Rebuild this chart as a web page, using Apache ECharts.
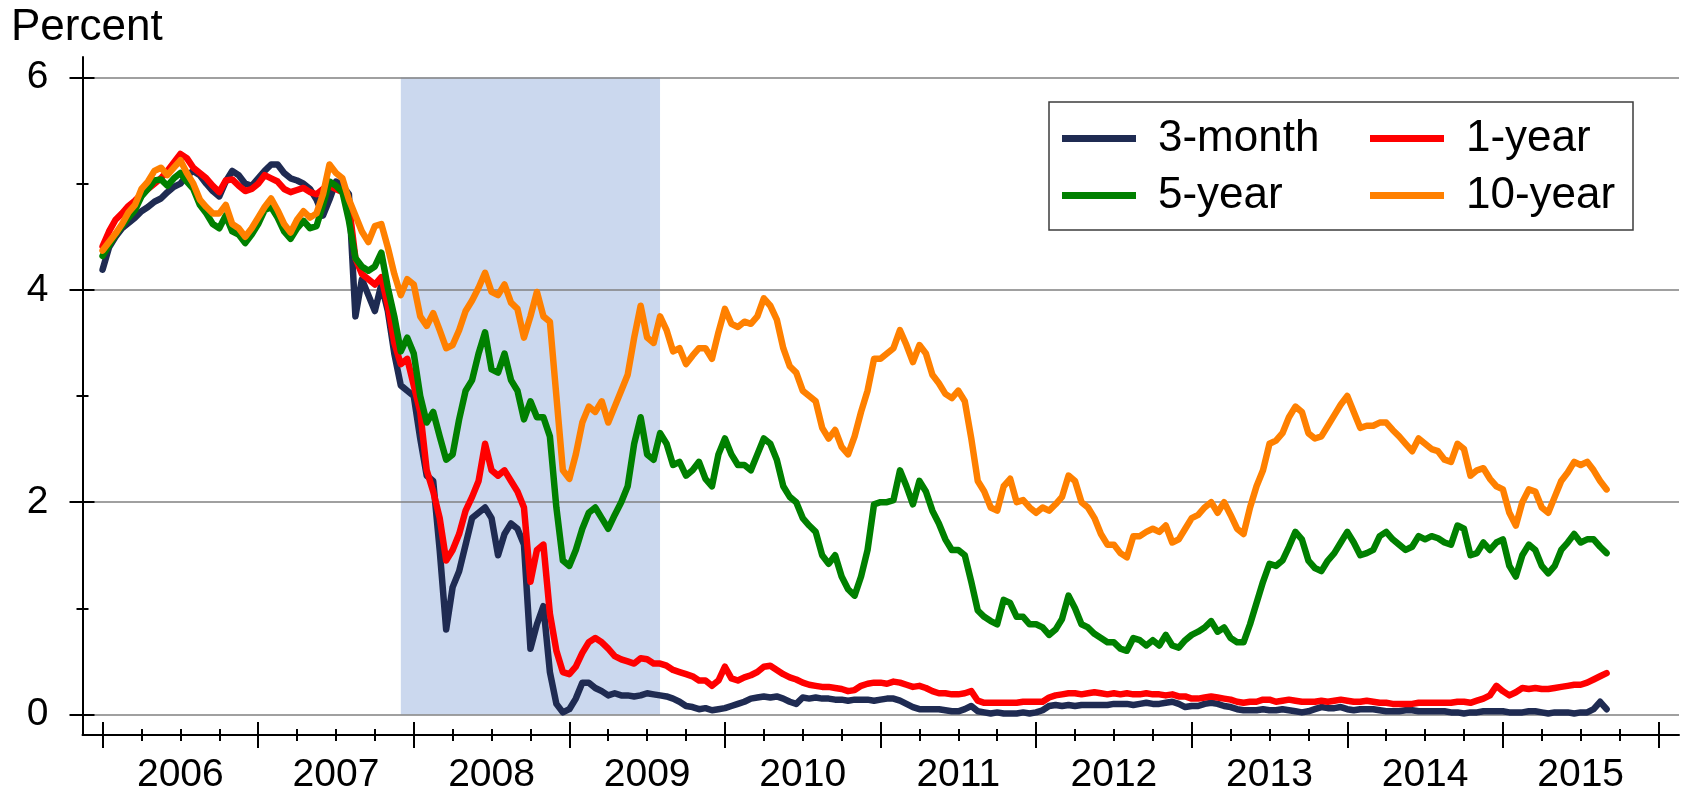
<!DOCTYPE html>
<html>
<head>
<meta charset="utf-8">
<script src="https://cdn.jsdelivr.net/npm/echarts@6/dist/echarts.min.js"></script>
<style>
  body { margin: 0; background: #fff; }
  #chart { width: 1687px; height: 795px; }
</style>
</head>
<body>
<div id="chart"></div>
<script>
// Treasury yields, semi-monthly readings (1st and 16th of each month) from Jan 2006
var startYear = 2006;
var perYear = 24;

var rate3m = [
  // 2006
  4.19,4.40,4.50,4.58,4.63,4.68,4.74,4.78,4.83,4.86,4.92,4.97,5.00,5.08,5.12,5.08,5.00,4.93,4.88,5.02,5.12,5.08,5.00,4.98,
  // 2007
  5.05,5.12,5.18,5.18,5.10,5.05,5.03,5.00,4.95,4.85,4.70,4.85,5.02,4.98,4.90,3.75,4.10,3.95,3.80,4.05,3.80,3.40,3.10,3.05,
  // 2008
  3.00,2.60,2.25,2.20,1.55,0.80,1.20,1.35,1.60,1.85,1.90,1.95,1.85,1.50,1.70,1.80,1.75,1.60,0.62,0.85,1.02,0.40,0.10,0.02,
  // 2009
  0.05,0.15,0.30,0.30,0.25,0.22,0.18,0.20,0.18,0.18,0.17,0.18,0.20,0.19,0.18,0.17,0.15,0.12,0.08,0.07,0.05,0.06,0.04,0.05,
  // 2010
  0.06,0.08,0.10,0.12,0.15,0.16,0.17,0.16,0.17,0.15,0.12,0.10,0.16,0.15,0.16,0.15,0.15,0.14,0.14,0.13,0.14,0.14,0.14,0.13,
  // 2011
  0.14,0.15,0.15,0.13,0.10,0.07,0.05,0.05,0.05,0.05,0.04,0.03,0.03,0.05,0.08,0.03,0.02,0.01,0.02,0.01,0.01,0.01,0.02,0.01,
  // 2012
  0.02,0.04,0.08,0.09,0.08,0.09,0.08,0.09,0.09,0.09,0.09,0.09,0.10,0.10,0.10,0.09,0.10,0.11,0.10,0.10,0.11,0.12,0.10,0.07,
  // 2013
  0.08,0.08,0.10,0.11,0.10,0.08,0.07,0.05,0.04,0.04,0.04,0.05,0.04,0.04,0.05,0.04,0.03,0.02,0.03,0.05,0.07,0.06,0.06,0.07,
  // 2014
  0.05,0.04,0.05,0.05,0.05,0.04,0.03,0.03,0.03,0.04,0.04,0.03,0.03,0.03,0.03,0.03,0.02,0.02,0.01,0.02,0.02,0.03,0.03,0.03,
  // 2015
  0.03,0.02,0.02,0.02,0.03,0.03,0.02,0.01,0.02,0.02,0.02,0.01,0.02,0.02,0.05,0.12,0.05
];

var rate1y = [
  // 2006
  4.41,4.55,4.66,4.72,4.79,4.84,4.90,4.95,5.00,5.05,5.12,5.20,5.28,5.24,5.15,5.10,5.05,4.98,4.92,5.03,5.04,4.98,4.93,4.95,
  // 2007
  5.00,5.08,5.05,5.02,4.95,4.92,4.94,4.96,4.92,4.90,4.95,4.98,4.95,4.92,4.80,4.30,4.15,4.10,4.05,4.12,3.85,3.50,3.30,3.35,
  // 2008
  3.10,2.85,2.30,2.10,1.85,1.45,1.55,1.70,1.92,2.05,2.20,2.55,2.30,2.25,2.30,2.20,2.10,1.95,1.25,1.55,1.60,0.95,0.60,0.40,
  // 2009
  0.38,0.45,0.58,0.68,0.72,0.68,0.62,0.55,0.52,0.50,0.48,0.53,0.52,0.48,0.48,0.46,0.42,0.40,0.38,0.36,0.32,0.32,0.27,0.32,
  // 2010
  0.45,0.34,0.32,0.35,0.37,0.40,0.45,0.46,0.42,0.38,0.35,0.33,0.30,0.28,0.27,0.26,0.26,0.25,0.24,0.22,0.23,0.27,0.29,0.30,
  // 2011
  0.30,0.29,0.31,0.30,0.28,0.26,0.27,0.25,0.22,0.20,0.20,0.19,0.19,0.20,0.22,0.13,0.11,0.11,0.11,0.11,0.11,0.11,0.12,0.12,
  // 2012
  0.12,0.12,0.16,0.18,0.19,0.20,0.20,0.19,0.20,0.21,0.20,0.19,0.20,0.19,0.20,0.19,0.19,0.20,0.19,0.19,0.18,0.19,0.17,0.17,
  // 2013
  0.15,0.15,0.16,0.17,0.16,0.15,0.14,0.12,0.11,0.12,0.12,0.14,0.14,0.12,0.13,0.14,0.13,0.12,0.12,0.12,0.13,0.12,0.13,0.14,
  // 2014
  0.13,0.12,0.12,0.13,0.12,0.11,0.11,0.10,0.10,0.10,0.10,0.11,0.11,0.11,0.11,0.11,0.11,0.12,0.12,0.11,0.13,0.15,0.18,0.27,
  // 2015
  0.22,0.18,0.21,0.25,0.24,0.25,0.24,0.24,0.25,0.26,0.27,0.28,0.28,0.30,0.33,0.36,0.39
];

var rate5y = [
  // 2006
  4.32,4.42,4.52,4.60,4.68,4.75,4.88,4.95,5.03,5.04,4.98,5.05,5.10,5.02,4.95,4.80,4.72,4.62,4.58,4.70,4.55,4.52,4.44,4.52,
  // 2007
  4.62,4.75,4.78,4.68,4.55,4.48,4.58,4.65,4.58,4.60,4.80,5.02,4.98,4.92,4.65,4.30,4.22,4.18,4.22,4.35,4.02,3.75,3.42,3.55,
  // 2008
  3.40,3.00,2.75,2.85,2.62,2.40,2.45,2.78,3.05,3.15,3.40,3.60,3.25,3.22,3.40,3.15,3.05,2.78,2.95,2.80,2.80,2.62,1.95,1.45,
  // 2009
  1.40,1.55,1.75,1.90,1.95,1.85,1.75,1.88,2.00,2.15,2.55,2.80,2.45,2.40,2.65,2.55,2.35,2.38,2.25,2.30,2.38,2.22,2.15,2.45,
  // 2010
  2.60,2.45,2.35,2.35,2.30,2.45,2.60,2.55,2.40,2.15,2.05,2.00,1.85,1.78,1.72,1.50,1.42,1.50,1.30,1.18,1.12,1.30,1.55,1.98,
  // 2011
  2.00,2.00,2.02,2.30,2.15,1.98,2.20,2.10,1.92,1.80,1.65,1.55,1.55,1.50,1.25,0.98,0.92,0.88,0.85,1.08,1.05,0.92,0.92,0.85,
  // 2012
  0.85,0.82,0.75,0.80,0.90,1.12,1.00,0.85,0.82,0.76,0.72,0.68,0.68,0.62,0.60,0.72,0.70,0.65,0.70,0.65,0.75,0.65,0.63,0.70,
  // 2013
  0.75,0.78,0.82,0.88,0.78,0.82,0.72,0.68,0.68,0.85,1.05,1.25,1.42,1.40,1.45,1.58,1.72,1.65,1.45,1.38,1.35,1.45,1.52,1.62,
  // 2014
  1.72,1.62,1.50,1.52,1.55,1.68,1.72,1.65,1.60,1.55,1.58,1.68,1.65,1.68,1.66,1.62,1.60,1.78,1.75,1.50,1.52,1.62,1.55,1.62,
  // 2015
  1.65,1.40,1.30,1.50,1.60,1.55,1.40,1.33,1.40,1.55,1.62,1.70,1.62,1.65,1.65,1.58,1.52
];

var rate10y = [
  // 2006
  4.37,4.45,4.53,4.62,4.73,4.80,4.95,5.02,5.12,5.15,5.08,5.15,5.22,5.10,5.00,4.85,4.78,4.72,4.72,4.80,4.62,4.58,4.50,4.58,
  // 2007
  4.68,4.78,4.86,4.75,4.62,4.54,4.66,4.74,4.68,4.72,4.90,5.18,5.10,5.05,4.85,4.70,4.55,4.45,4.60,4.62,4.40,4.15,3.95,4.10,
  // 2008
  4.05,3.75,3.66,3.78,3.62,3.45,3.48,3.62,3.80,3.90,4.02,4.16,3.98,3.95,4.05,3.88,3.82,3.55,3.75,3.98,3.75,3.70,3.00,2.30,
  // 2009
  2.22,2.45,2.75,2.90,2.85,2.95,2.75,2.90,3.05,3.20,3.55,3.85,3.55,3.50,3.75,3.62,3.42,3.45,3.30,3.38,3.45,3.45,3.35,3.60,
  // 2010
  3.82,3.68,3.65,3.70,3.68,3.75,3.92,3.85,3.72,3.45,3.28,3.22,3.05,3.00,2.95,2.70,2.60,2.68,2.52,2.45,2.62,2.85,3.05,3.35,
  // 2011
  3.35,3.40,3.45,3.62,3.48,3.32,3.48,3.40,3.20,3.12,3.02,2.98,3.05,2.95,2.60,2.20,2.10,1.95,1.92,2.15,2.22,2.00,2.02,1.95,
  // 2012
  1.90,1.95,1.92,1.98,2.05,2.25,2.20,2.00,1.95,1.85,1.70,1.60,1.60,1.52,1.48,1.68,1.68,1.72,1.75,1.72,1.78,1.62,1.65,1.75,
  // 2013
  1.85,1.88,1.95,2.00,1.90,2.00,1.88,1.75,1.70,1.95,2.15,2.30,2.55,2.58,2.65,2.80,2.90,2.85,2.65,2.60,2.62,2.72,2.82,2.92,
  // 2014
  3.00,2.85,2.70,2.72,2.72,2.75,2.75,2.68,2.62,2.55,2.48,2.60,2.55,2.50,2.48,2.40,2.38,2.55,2.50,2.25,2.30,2.32,2.22,2.15,
  // 2015
  2.12,1.90,1.78,2.00,2.12,2.10,1.95,1.90,2.05,2.20,2.28,2.38,2.35,2.38,2.30,2.20,2.12
];

// recession shading, Dec 2007 - mid 2009 (decimal years)
var recession = [2007.917, 2009.583];

// tick labels
var years = [2006, 2007, 2008, 2009, 2010, 2011, 2012, 2013, 2014, 2015];
var yMajor = [0, 2, 4, 6];
var yMinor = [1, 3, 5];

var fontFam = '"Liberation Sans", Arial, sans-serif';

function toSeries(values) {
  return values.map(function (v, i) { return [startYear + i / perYear, v]; });
}

var yearTicks = years.concat([years[years.length - 1] + 1]);
var quarterTicks = [];
years.forEach(function (y) { quarterTicks.push(y + 0.25, y + 0.5, y + 0.75); });
var yearLabels = years.map(function (y) { return y + 0.5; });

var XMIN = 2005.871, XMAX = 2016.132;
var YMIN = -0.193, YMAX = 6.193;

function xAx(ticks, inside, len, showLine, showLabel) {
  return {
    type: 'value', position: 'bottom', min: XMIN, max: XMAX,
    axisLine: { show: showLine, onZero: false, lineStyle: { color: '#000', width: 2 } },
    axisTick: { show: true, customValues: ticks, inside: inside, length: len,
                lineStyle: { color: '#000', width: 2 } },
    axisLabel: showLabel ? {
      customValues: yearLabels, color: '#000', fontSize: 39, fontFamily: fontFam, margin: 21,
      formatter: function (v) { return String(Math.floor(v)); }
    } : { show: false },
    splitLine: { show: false }
  };
}

function yAx(ticks, inside, len, main) {
  return {
    type: 'value', position: 'left', min: YMIN, max: YMAX, z: 2,
    axisLine: { show: main, onZero: false, lineStyle: { color: '#000', width: 2 } },
    axisTick: { show: true, customValues: ticks, inside: inside, length: len,
                lineStyle: { color: '#000', width: 2 } },
    axisLabel: main ? {
      customValues: yMajor, color: '#000', fontSize: 39, fontFamily: fontFam, margin: 34
    } : { show: false },
    splitLine: main ? { show: true, lineStyle: { color: '#808080', width: 1.5 } } : { show: false }
  };
}

function lineSeries(name, values, color) {
  return {
    name: name, type: 'line', data: toSeries(values), showSymbol: false, z: 3,
    lineStyle: { color: color, width: 6.5, join: 'round', cap: 'round' },
    itemStyle: { color: color }
  };
}

var chart = echarts.init(document.getElementById('chart'));
chart.setOption({
  animation: false,
  title: {
    text: 'Percent', left: 6, top: 1,
    textStyle: { fontSize: 44, fontWeight: 'normal', color: '#000', fontFamily: fontFam }
  },
  grid: { left: 82.5, right: 8, top: 57, bottom: 59 },
  xAxis: [
    xAx(yearTicks, false, 13, true, true),
    xAx(yearTicks, true, 13, false, false),
    xAx(quarterTicks, false, 6, false, false),
    xAx(quarterTicks, true, 6, false, false)
  ],
  yAxis: [
    yAx(yMajor, false, 13, true),
    yAx(yMajor, true, 12, false),
    yAx(yMinor, false, 6, false),
    yAx(yMinor, true, 6, false)
  ],
  legend: [
    {
      data: ['3-month', '5-year'], orient: 'vertical', left: 1062, top: 110, padding: 0,
      itemWidth: 74, itemHeight: 7, itemGap: 0, icon: 'rect', selectedMode: false,
      textStyle: { fontSize: 44, color: '#000', fontFamily: fontFam, lineHeight: 57, padding: [0, 0, 0, 17] }
    },
    {
      data: ['1-year', '10-year'], orient: 'vertical', left: 1370, top: 110, padding: 0,
      itemWidth: 74, itemHeight: 7, itemGap: 0, icon: 'rect', selectedMode: false,
      textStyle: { fontSize: 44, color: '#000', fontFamily: fontFam, lineHeight: 57, padding: [0, 0, 0, 17] }
    }
  ],
  graphic: [{
    type: 'rect', z: 3,
    shape: { x: 1049, y: 102, width: 584, height: 128 },
    style: { fill: '#fff', stroke: '#3c3c3c', lineWidth: 1.5 }
  }],
  series: [
    {
      name: 'recession', type: 'line', data: [], z: 1, silent: true,
      markArea: {
        silent: true,
        itemStyle: { color: '#cbd8ee' },
        data: [[{ xAxis: recession[0], yAxis: 0 }, { xAxis: recession[1], yAxis: 6 }]]
      }
    },
    lineSeries('3-month', rate3m, '#1f2b52'),
    lineSeries('1-year', rate1y, '#ff0000'),
    lineSeries('5-year', rate5y, '#008000'),
    lineSeries('10-year', rate10y, '#ff8000')
  ]
});
</script>
</body>
</html>
